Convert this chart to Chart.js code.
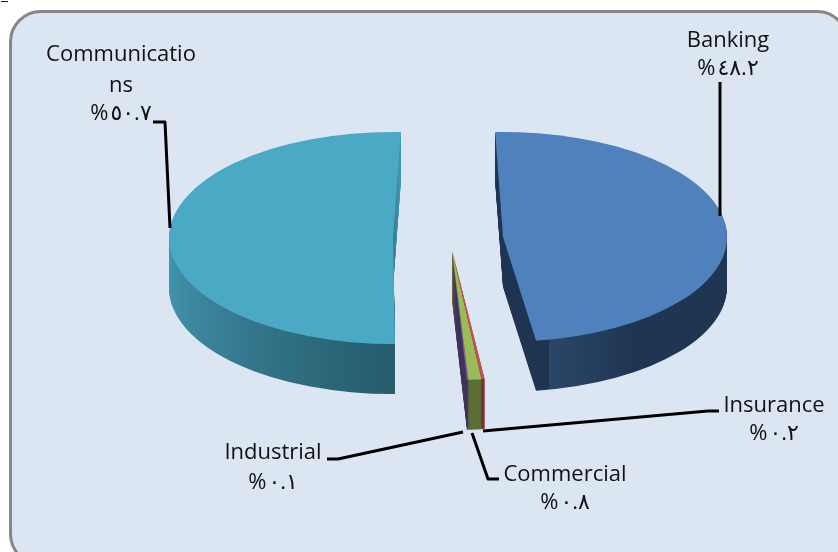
<!DOCTYPE html>
<html>
<head>
<meta charset="utf-8">
<title>Sector shares</title>
<script src="https://cdn.jsdelivr.net/npm/chart.js@4"></script>
<style>
  html, body { margin: 0; padding: 0; width: 838px; height: 552px; overflow: hidden; background: #fff; }
  .panel {
    position: absolute; left: 9px; top: 10px; width: 840px; height: 556px;
    background: #dce6f2; border: 3px solid #868686; border-radius: 32px; box-sizing: border-box;
  }
  .cutLink {
    position: absolute; left: 1px; top: -12px; color: #0000ee; text-decoration: underline;
    font: 14px "Liberation Serif", serif;
  }
  #pieChart { position: absolute; left: 0; top: 0; }
</style>
</head>
<body>
<span class="cutLink">b</span>
<div class="panel"></div>
<canvas id="pieChart" width="838" height="552"></canvas>
<script>
// ===== DATA =====
const categories = ['Banking', 'Insurance', 'Commercial', 'Industrial', 'Communications'];
const shares = [48.2, 0.2, 0.8, 0.1, 50.7];
const percentLabels = ['%٤٨.٢', '%٠.٢', '%٠.٨', '%٠.١', '%٥٠.٧'];
const topColors = ['#4f81bd', '#c0504d', '#9bbb59', '#8064a2', '#4aa9c5'];
const sideColors = ['#1f3652', '#7a3331', '#5c6e34', '#43335f', '#2e7286'];

// ===== LAYOUT =====
const radius = 200;
const depth = 50;
const wedgeView = { x: 452, y: 250, sx: 1.29, sy: 0.65, rot: -0.8 };
const sliceViews = [
  { x: 503, y: 237, sx: 1.12, sy: 0.525, rot: -2 },
  wedgeView,
  wedgeView,
  wedgeView,
  { x: 393, y: 238, sx: 1.12, sy: 0.53, rot: 2 }
];
const drawOrder = [0, 4, 3, 2, 1];

const labelLines = [
  ['Banking', percentLabels[0]],
  ['Insurance', percentLabels[1]],
  ['Commercial', percentLabels[2]],
  ['Industrial', percentLabels[3]],
  ['Communicatio', 'ns', percentLabels[4]]
];
const labelSpots = [
  { x: 728, y: [41, 69] },
  { x: 774, y: [406, 434] },
  { x: 565, y: [475, 503] },
  { x: 273, y: [453, 483] },
  { x: 121, y: [55, 86, 114] }
];
const leaders = [
  [[720, 82], [720, 216]],
  [[483, 431], [708, 411], [719, 411]],
  [[472, 433], [488, 479], [499, 479]],
  [[463, 432], [338, 459], [327, 459]],
  [[153, 122], [165, 122], [170, 228]]
];

// ===== 3D PIE PLUGIN =====
function sideFill(ctx, arc, i) {
  if (i === 0) {
    const g = ctx.createLinearGradient(arc.x, 0, arc.x + radius, 0);
    g.addColorStop(0, '#1e3450');
    g.addColorStop(0.17, '#1e3450');
    g.addColorStop(0.17, '#2b4668');
    g.addColorStop(0.55, '#1f3652');
    g.addColorStop(1, '#1f3652');
    return g;
  }
  if (i === 4) {
    // runs corner to corner so the cut face on the upper right stays light
    const g = ctx.createLinearGradient(arc.x - radius, arc.y, arc.x, arc.y + radius);
    g.addColorStop(0, '#4298b0');
    g.addColorStop(0.5, '#387c93');
    g.addColorStop(1, '#265e6d');
    return g;
  }
  return sideColors[i];
}

function drawSlice(ctx, arc, i, shift, fill) {
  const v = sliceViews[i];
  const keep = arc.options.backgroundColor;
  ctx.save();
  ctx.translate(v.x, v.y + shift);
  ctx.scale(v.sx, v.sy);
  ctx.rotate(v.rot * Math.PI / 180);
  ctx.translate(-arc.x, -arc.y);
  arc.options.backgroundColor = fill;
  arc.draw(ctx);
  arc.options.backgroundColor = keep;
  ctx.restore();
}

const pie3d = {
  id: 'pie3d',
  beforeDatasetsDraw(chart) {
    const ctx = chart.ctx;
    const arcs = chart.getDatasetMeta(0).data;
    const fills = arcs.map((arc, i) => sideFill(ctx, arc, i));
    for (let d = depth; d > 0; d--) {
      drawOrder.forEach(i => drawSlice(ctx, arcs[i], i, d, fills[i]));
    }
    drawOrder.forEach(i => drawSlice(ctx, arcs[i], i, 0, topColors[i]));
    return false;
  },
  afterDraw(chart) {
    const ctx = chart.ctx;
    ctx.save();
    ctx.strokeStyle = '#000';
    ctx.lineWidth = 3;
    ctx.lineJoin = 'round';
    leaders.forEach(line => {
      ctx.beginPath();
      line.forEach((p, n) => n ? ctx.lineTo(p[0], p[1]) : ctx.moveTo(p[0], p[1]));
      ctx.stroke();
    });
    ctx.fillStyle = '#111';
    ctx.font = '22px "Open Sans", "DejaVu Sans", sans-serif';
    ctx.textAlign = 'center';
    ctx.textBaseline = 'middle';
    ctx.direction = 'ltr';
    labelLines.forEach((lines, i) => {
      lines.forEach((text, n) => {
        ctx.letterSpacing = percentLabels.includes(text) ? '2px' : '0px';
        ctx.fillText(text, labelSpots[i].x, labelSpots[i].y[n]);
      });
    });
    ctx.restore();
  }
};

// ===== CHART =====
const ctx = document.getElementById('pieChart').getContext('2d');
new Chart(ctx, {
  type: 'pie',
  data: {
    labels: categories,
    datasets: [{
      data: shares,
      backgroundColor: topColors,
      borderWidth: 0,
      radius: radius
    }]
  },
  options: {
    responsive: false,
    animation: false,
    events: [],
    plugins: {
      legend: { display: false },
      tooltip: { enabled: false }
    }
  },
  plugins: [pie3d]
});
</script>
</body>
</html>
